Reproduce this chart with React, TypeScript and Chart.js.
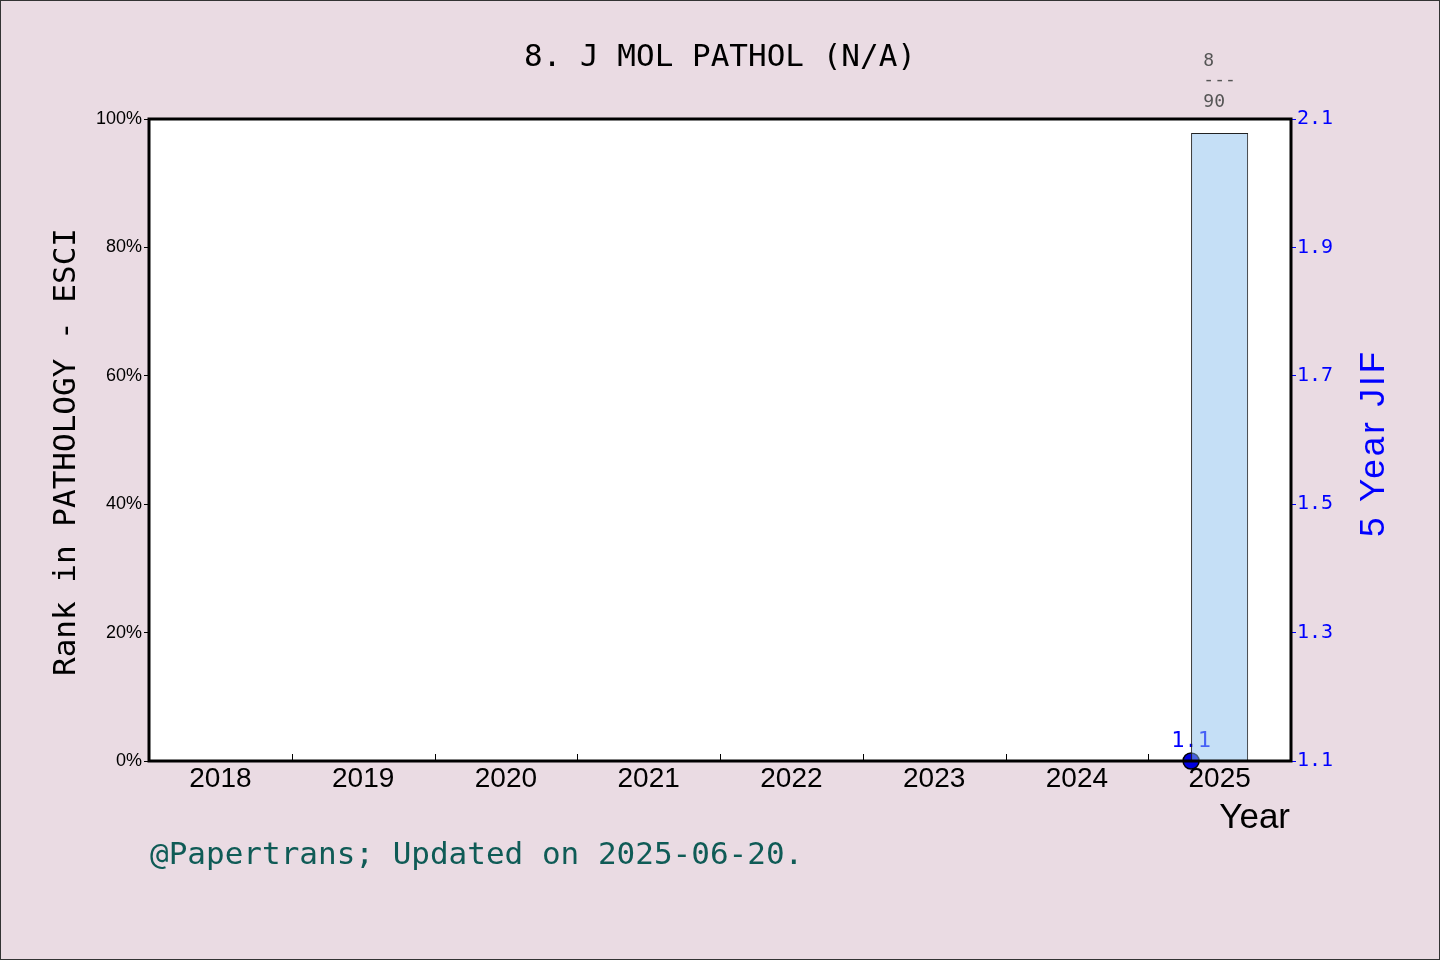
import { useEffect, useRef } from "react"
import { Chart, registerables } from "chart.js"

Chart.register(...registerables)

// chart data
const years = [2018, 2019, 2020, 2021, 2022, 2023, 2024, 2025]
const rankPercent = [null, null, null, null, null, null, null, 97.8]
const rankPosition = [null, null, null, null, null, null, null, 8]
const rankTotal = [null, null, null, null, null, null, null, 90]
const jif5 = [null, null, null, null, null, null, null, 1.1]
const leftTicks = [0, 20, 40, 60, 80, 100]
const rightTicks = [1.1, 1.3, 1.5, 1.7, 1.9, 2.1]

const TITLE = "8. J MOL PATHOL (N/A)"
const LEFT_LABEL = "Rank in PATHOLOGY - ESCI"
const RIGHT_LABEL = "5 Year JIF"
const X_LABEL = "Year"
const FOOTER = "@Papertrans; Updated on 2025-06-20."

const MONO = "'DejaVu Sans Mono', 'Liberation Mono', monospace"
const SANS = "'Liberation Sans', Arial, sans-serif"
const BG = "#eadbe3"
const BAR_WIDTH_YEARS = 0.4 // bar width as a share of one year slot

const decor = {
  id: "decor",
  beforeDraw(chart: Chart) {
    const { ctx, width, height, chartArea } = chart
    ctx.save()
    ctx.fillStyle = BG
    ctx.fillRect(0, 0, width, height)
    ctx.strokeStyle = "#333"
    ctx.lineWidth = 1
    ctx.strokeRect(0.5, 0.5, width - 1, height - 1)
    ctx.fillStyle = "#fff"
    ctx.fillRect(chartArea.left, chartArea.top, chartArea.right - chartArea.left, chartArea.bottom - chartArea.top)
    ctx.restore()
  },
  afterDatasetDraw(chart: Chart, args: { index: number }) {
    // value labels for the JIF line, drawn before the bar so the bar covers them
    if (args.index !== 1) return
    const { ctx } = chart
    const meta = chart.getDatasetMeta(1)
    ctx.save()
    ctx.font = `22px ${MONO}`
    ctx.fillStyle = "#0000ff"
    ctx.textAlign = "center"
    ctx.textBaseline = "alphabetic"
    meta.data.forEach((pt: any, i: number) => {
      const v = jif5[i]
      if (v == null) return
      ctx.fillText(v.toFixed(1), pt.x, pt.y - 14)
    })
    ctx.restore()
  },
  afterDatasetsDraw(chart: Chart) {
    const { ctx, chartArea } = chart
    const x = chart.scales.x
    ctx.save()
    // inward tick marks on the year boundaries
    ctx.strokeStyle = "#000"
    ctx.lineWidth = 1
    years.slice(0, -1).forEach((y) => {
      const px = Math.round(x.getPixelForValue(y + 0.5)) + 0.5
      ctx.beginPath()
      ctx.moveTo(px, chartArea.bottom)
      ctx.lineTo(px, chartArea.bottom - 7)
      ctx.stroke()
    })
    // frame
    ctx.lineWidth = 3
    ctx.strokeRect(chartArea.left, chartArea.top, chartArea.right - chartArea.left, chartArea.bottom - chartArea.top)
    ctx.restore()
  },
  afterDraw(chart: Chart) {
    const { ctx, chartArea } = chart
    ctx.save()
    ctx.textBaseline = "middle"

    // title
    ctx.font = `31px ${MONO}`
    ctx.fillStyle = "#000"
    ctx.textAlign = "center"
    ctx.fillText(TITLE, (chartArea.left + chartArea.right) / 2, 58)

    // left axis title
    ctx.save()
    ctx.translate(67, (chartArea.top + chartArea.bottom) / 2 + 12)
    ctx.rotate(-Math.PI / 2)
    ctx.fillText(LEFT_LABEL, 0, 0)
    ctx.restore()

    // right axis title
    ctx.save()
    ctx.translate(1374, 443)
    ctx.rotate(-Math.PI / 2)
    ctx.font = `35px ${SANS}`
    ;(ctx as any).letterSpacing = "3px"
    ctx.fillStyle = "#0000ff"
    ctx.fillText(RIGHT_LABEL, 0, 0)
    ctx.restore()

    // x axis title
    ctx.font = `35px ${SANS}`
    ctx.textAlign = "right"
    ctx.fillStyle = "#000"
    ctx.fillText(X_LABEL, chartArea.right - 1, 818)

    // footer
    ctx.font = `31px ${MONO}`
    ctx.textAlign = "left"
    ctx.fillStyle = "#0f5b56"
    ctx.fillText(FOOTER, chartArea.left + 1, 856)

    // rank annotations above the bars
    const meta = chart.getDatasetMeta(0)
    ctx.font = `18px ${MONO}`
    ctx.fillStyle = "#555"
    meta.data.forEach((bar: any, i: number) => {
      if (rankPosition[i] == null) return
      const lines = [String(rankPosition[i]), "---", String(rankTotal[i])]
      const w = Math.max(...lines.map((l) => ctx.measureText(l).width))
      const left = bar.x - w / 2
      ctx.fillText(lines[0], left, chartArea.top - 58)
      ctx.fillText(lines[1], left, chartArea.top - 39)
      ctx.fillText(lines[2], left, chartArea.top - 17)
    })
    ctx.restore()
  },
}

export default function App() {
  const chartRef = useRef<HTMLCanvasElement>(null)
  const chartInstance = useRef<Chart | null>(null)

  useEffect(() => {
    document.body.style.margin = "0"
    const ctx = chartRef.current?.getContext("2d")
    if (!ctx) return
    if (chartInstance.current) chartInstance.current.destroy()

    chartInstance.current = new Chart(ctx, {
      type: "bar",
      data: {
        datasets: [
          {
            type: "bar",
            label: "Rank",
            data: years.map((y, i) => ({ x: y, y: rankPercent[i] })) as any,
            yAxisID: "y",
            backgroundColor: "rgba(140, 192, 238, 0.5)",
            borderColor: "#222",
            borderWidth: 1,
            barPercentage: BAR_WIDTH_YEARS,
            categoryPercentage: 1,
            order: 0,
          },
          {
            type: "line",
            label: "5 Year JIF",
            data: years.map((y, i) => ({ x: y - BAR_WIDTH_YEARS / 2, y: jif5[i] })) as any,
            yAxisID: "y1",
            borderColor: "#0000ff",
            borderWidth: 2,
            pointRadius: 8,
            pointBackgroundColor: "#0000dd",
            pointBorderColor: "#000",
            pointBorderWidth: 1.5,
            clip: false as any,
            order: 1,
          },
        ],
      },
      options: {
        animation: false,
        responsive: true,
        maintainAspectRatio: false,
        layout: { padding: { top: 119, left: 0, right: 0, bottom: 0 } },
        plugins: {
          legend: { display: false },
          tooltip: { enabled: false },
        },
        scales: {
          x: {
            type: "linear",
            offset: false,
            min: 2017.5,
            max: 2025.5,
            afterBuildTicks: (scale: any) => {
              scale.ticks = years.map((v) => ({ value: v }))
            },
            afterFit: (scale: any) => {
              scale.height = 199
            },
            grid: { display: false, drawTicks: false, offset: false },
            border: { display: false },
            ticks: {
              padding: 1,
              color: "#000",
              font: { family: SANS, size: 28 },
              callback: (v: any) => String(v),
              maxRotation: 0,
              autoSkip: false,
            },
          },
          y: {
            position: "left",
            min: 0,
            max: 100,
            afterBuildTicks: (scale: any) => {
              scale.ticks = leftTicks.map((v) => ({ value: v }))
            },
            afterFit: (scale: any) => {
              scale.width = 149
            },
            grid: { drawOnChartArea: false, drawTicks: true, tickLength: 5, color: "#000" },
            border: { display: false },
            ticks: {
              padding: 2,
              color: "#000",
              font: { family: SANS, size: 18 },
              callback: (v: any) => `${v}%`,
            },
          },
          y1: {
            position: "right",
            min: 1.1,
            max: 2.1,
            afterBuildTicks: (scale: any) => {
              scale.ticks = rightTicks.map((v) => ({ value: v }))
            },
            afterFit: (scale: any) => {
              scale.width = 149
            },
            grid: { drawOnChartArea: false, drawTicks: true, tickLength: 5, color: "#0000ff" },
            border: { display: false },
            ticks: {
              padding: 1,
              color: "#0000ff",
              font: { family: MONO, size: 20 },
              callback: (v: any) => Number(v).toFixed(1),
            },
          },
        },
      },
      plugins: [decor],
    })

    return () => {
      if (chartInstance.current) {
        chartInstance.current.destroy()
        chartInstance.current = null
      }
    }
  }, [])

  return (
    <div style={{ position: "relative", width: 1440, height: 960 }}>
      <canvas ref={chartRef}></canvas>
    </div>
  )
}
